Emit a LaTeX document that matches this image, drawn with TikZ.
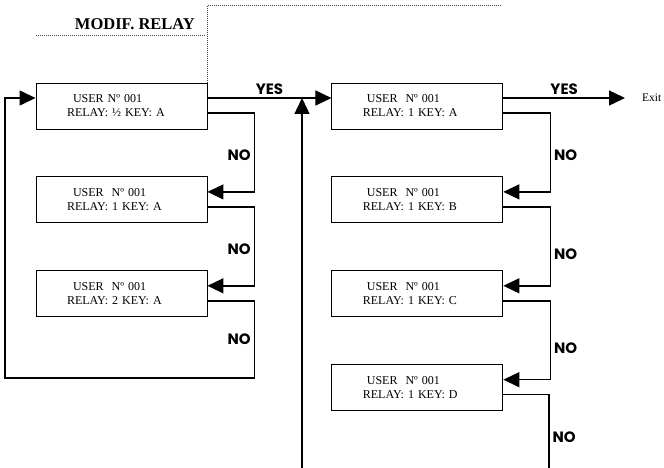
\documentclass[tikz,border=0pt]{standalone}
\usepackage{fontspec}
\setmainfont{Liberation Serif}
\newfontfamily\answerfont{Poppins}
\usetikzlibrary{arrows.meta, positioning, calc}

\begin{document}
\begin{tikzpicture}[
        x=1pt, y=-1pt,
        every node/.style={font=\fontsize{12}{14}\selectfont},
        screen/.style={draw, line width=0.9pt, minimum width=171pt, minimum height=46pt,
            text width=109pt, inner xsep=31pt, align=left},
        flow/.style={line width=1.4pt, -{Triangle[length=16pt, width=15pt]}},
        wire/.style={line width=1.4pt},
        answer/.style={font=\answerfont\bfseries\fontsize{15}{17}\selectfont, inner sep=3pt},
        dotline/.style={line width=0.8pt, dash pattern=on 0.8pt off 1.2pt, black!75}
    ]
        \useasboundingbox (0,0) rectangle (664,468);

        % relay screens
        \node [screen] (u1) at (121.5,106) {\hspace*{6pt}USER Nº 001\\RELAY: ½ KEY: A};
        \node [screen, below=47pt of u1] (u2) {\hspace*{6pt}USER\ \ Nº 001\\RELAY: 1 KEY: A};
        \node [screen, below=47pt of u2] (u3) {\hspace*{6pt}USER\ \ Nº 001\\RELAY: 2 KEY: A};

        % key screens
        \node [screen, right=124pt of u1] (k1) {\hspace*{4pt}USER\ \ Nº 001\\RELAY: 1 KEY: A};
        \node [screen, below=47pt of k1] (k2) {\hspace*{4pt}USER\ \ Nº 001\\RELAY: 1 KEY: B};
        \node [screen, below=47pt of k2] (k3) {\hspace*{4pt}USER\ \ Nº 001\\RELAY: 1 KEY: C};
        \node [screen, below=47pt of k3] (k4) {\hspace*{4pt}USER\ \ Nº 001\\RELAY: 1 KEY: D};

        \node [anchor=west, inner sep=0pt, font=\fontsize{11.5}{13}\selectfont] (exit) at (642,98) {Exit};

        % title
        \node [anchor=base east, inner sep=0pt, font=\bfseries\fontsize{16.5}{18}\selectfont] (title) at (195,30) {MODIF. RELAY};
        \draw [dotline] (36,35) -- (206,35);
        \draw [dotline] (u1.north east) |- (500,5);

        % named points
        \coordinate (k1in) at ([yshift=8pt]k1.west);
        \coordinate (back) at (302,468);
        \coordinate (loop) at (5,378);
        \coordinate (kend) at (549,468);

        % yes branches
        \draw [flow] ([yshift=8pt]u1.east) -- (k1in) node [answer, midway, above] {YES};
        \draw [flow] (back) -- (back |- k1in);
        \draw [flow] ([yshift=8pt]k1.east) -- ([xshift=-17pt]exit.west) node [answer, midway, above] {YES};

        % no branches, left
        \draw [flow] ([yshift=-7pt]u1.east) -- ++(47,0) |- node [answer, pos=0.27, left] {NO} ([yshift=8pt]u2.east);
        \draw [flow] ([yshift=-7pt]u2.east) -- ++(47,0) |- node [answer, pos=0.27, left] {NO} ([yshift=8pt]u3.east);
        \draw [flow] ([yshift=-7pt]u3.east) -- ++(47,0) |- node [answer, pos=0.25, left] {NO} (loop) |- ([yshift=8pt]u1.west);

        % no branches, right
        \draw [flow] ([yshift=-7pt]k1.east) -- ++(47,0) |- node [answer, pos=0.27, right] {NO} ([yshift=8pt]k2.east);
        \draw [flow] ([yshift=-7pt]k2.east) -- ++(47,0) |- node [answer, pos=0.3, right] {NO} ([yshift=8pt]k3.east);
        \draw [flow] ([yshift=-7pt]k3.east) -- ++(47,0) |- node [answer, pos=0.3, right] {NO} ([yshift=8pt]k4.east);
        \draw [wire] ([yshift=-7pt]k4.east) -| node [answer, pos=0.79, right] {NO} (kend);
    \end{tikzpicture}
\end{document}
